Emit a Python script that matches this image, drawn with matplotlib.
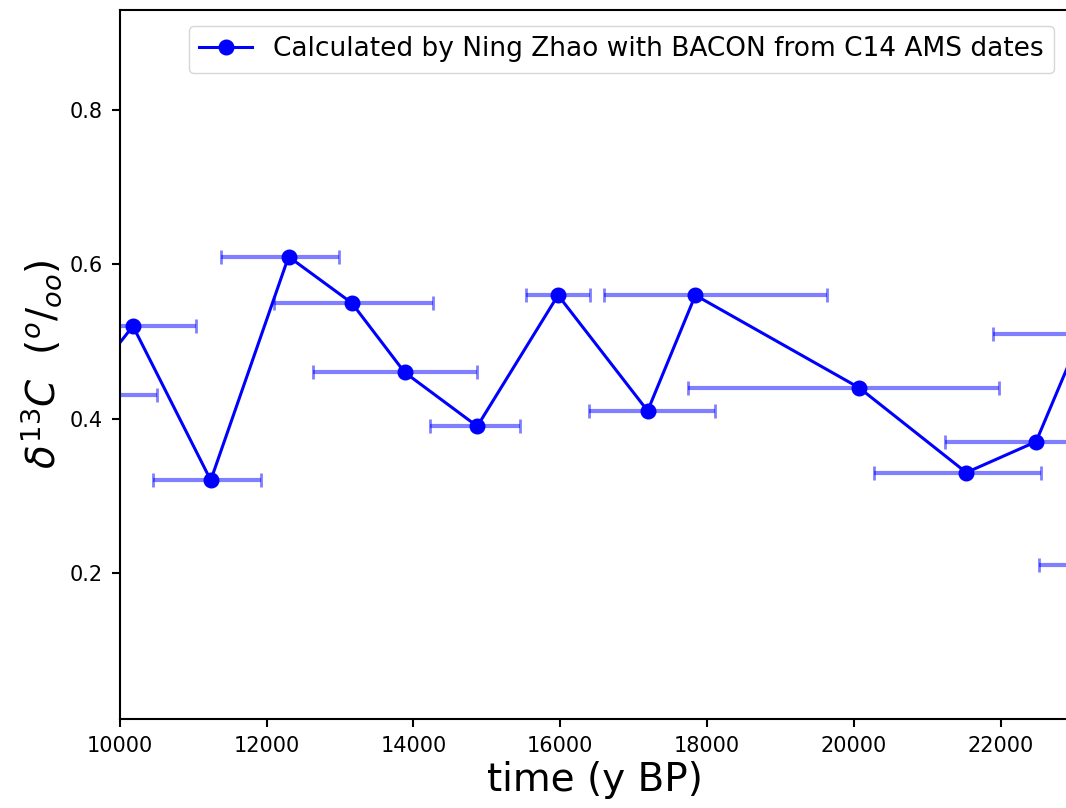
import matplotlib
matplotlib.use("Agg")
import matplotlib.pyplot as plt
import numpy as np

# calibrated ages (y BP) and d13C values, with age range of each date
age = [9440, 10180, 11240, 12300, 13160, 13880, 14870, 15970, 17190, 17840,
       20070, 21530, 22480, 23100, 23600]
d13c = [0.43, 0.52, 0.32, 0.61, 0.55, 0.46, 0.39, 0.56, 0.41, 0.56,
        0.44, 0.33, 0.37, 0.51, 0.21]
age_lo = [8380, 9320, 10460, 11380, 12100, 12630, 14230, 15530, 16390, 16590,
          17740, 20270, 21240, 21900, 22515]
age_hi = [10510, 11035, 11920, 12990, 14260, 14870, 15450, 16410, 18110, 19630,
          21980, 22550, 23720, 24300, 24700]

age = np.array(age)
xerr = [age - np.array(age_lo), np.array(age_hi) - age]

fig = plt.figure(figsize=(10.66, 8.08), dpi=100)
ax = fig.add_axes([0.1123, 0.1102, 0.8915, 0.8775])

ax.errorbar(age, d13c, xerr=xerr, fmt='none', ecolor='b', alpha=0.5,
            elinewidth=3, capsize=5, capthick=2)
ax.plot(age, d13c, 'b-o', lw=2.2, ms=10.5,
        label='Calculated by Ning Zhao with BACON from C14 AMS dates')

ax.set_xlim(10000, 22943)
ax.set_ylim(0.0104, 0.930)
ax.set_yticks([0.2, 0.4, 0.6, 0.8])
ax.tick_params(labelsize=15, width=1.5, length=6, pad=6)
for sp in ax.spines.values():
    sp.set_linewidth(1.5)

ax.set_xlabel('time (y BP)', fontsize=28)
ax.set_ylabel(r'$\delta^{13}C\ \ (^o/_{oo})$', fontsize=28)
ax.legend(loc='upper right', fontsize=19, borderaxespad=0.6)

fig.savefig('out.png', dpi=100)
